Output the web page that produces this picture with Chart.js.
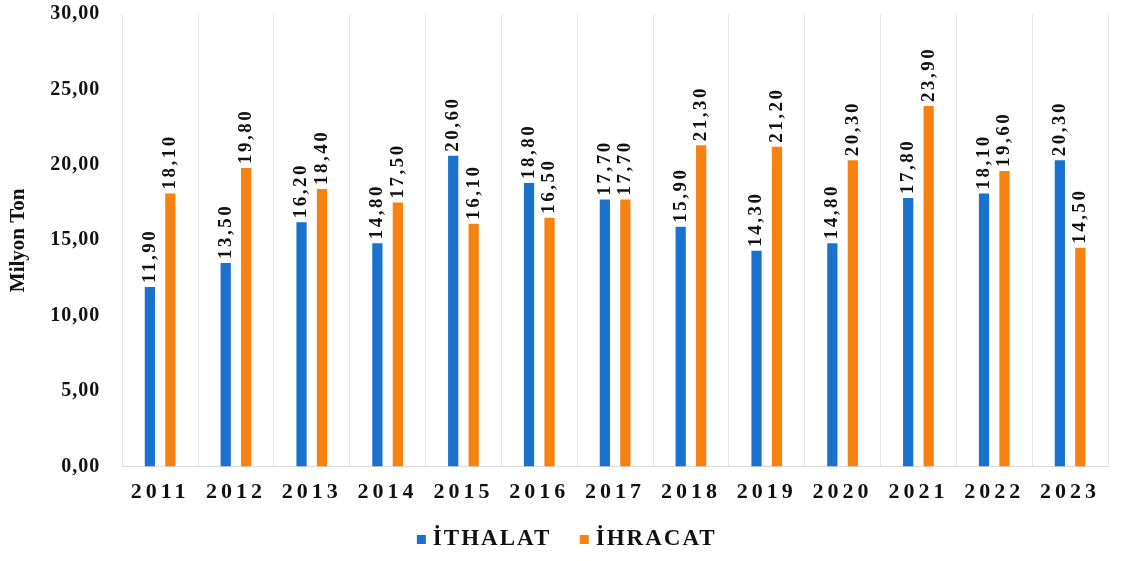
<!DOCTYPE html>
<html>
<head>
<meta charset="utf-8">
<script src="https://cdn.jsdelivr.net/npm/chart.js@4"></script>
<style>
  html, body { margin: 0; padding: 0; background: #fff; }
  #wrap { width: 1134px; height: 561px; position: relative; }
</style>
</head>
<body>
<div id="wrap"><canvas id="myChart"></canvas></div>
<script>
// veriler
const years = ["2011", "2012", "2013", "2014", "2015", "2016", "2017", "2018", "2019", "2020", "2021", "2022", "2023"];
const ithalat = [11.90, 13.50, 16.20, 14.80, 20.60, 18.80, 17.70, 15.90, 14.30, 14.80, 17.80, 18.10, 20.30];
const ihracat = [18.10, 19.80, 18.40, 17.50, 16.10, 16.50, 17.70, 21.30, 21.20, 20.30, 23.90, 19.60, 14.50];

const serif = "'Liberation Serif', 'DejaVu Serif', serif";
const blue = '#1a72cf';
const orange = '#f7820f';

function fmt(v) {
    return v.toFixed(2).replace('.', ',');
}

// lejant kutusu: kare sağ tarafta, yazıya yakın dursun
function legendSwatch(color) {
    const c = document.createElement('canvas');
    c.width = 41;
    c.height = 9;
    const g = c.getContext('2d');
    g.fillStyle = color;
    g.fillRect(28, 0, 9, 9);
    return c;
}

// etiketleri çubukların üstüne dikey yaz
const barLabels = {
    id: 'barLabels',
    afterDatasetsDraw(chart) {
        const ctx = chart.ctx;
        ctx.save();
        ctx.font = "bold 19px " + serif;
        ctx.fillStyle = "#111";
        ctx.letterSpacing = "2.5px";
        ctx.textAlign = "left";
        ctx.textBaseline = "middle";
        chart.data.datasets.forEach((ds, i) => {
            const meta = chart.getDatasetMeta(i);
            meta.data.forEach((bar, j) => {
                ctx.save();
                ctx.translate(bar.x, bar.y - 4);
                ctx.rotate(-Math.PI / 2);
                ctx.fillText(fmt(ds.data[j]), 0, 0);
                ctx.restore();
            });
        });
        ctx.restore();
    }
};

// harf aralığı: eksen etiketleri ve lejant
function withSpacing(obj, name, sp) {
    const orig = obj[name];
    obj[name] = function (...args) {
        const c = this.ctx;
        c.save();
        c.letterSpacing = sp;
        const r = orig.apply(this, args);
        c.restore();
        return r;
    };
}

const spacedText = {
    id: 'spacedText',
    beforeLayout(chart) {
        const lg = chart.legend;
        if (lg && !lg._wrapped) {
            withSpacing(lg, 'fit', '2px');
            withSpacing(lg, 'draw', '2px');
            lg._wrapped = true;
        }
    },
    afterLayout(chart) {
        [['x', '4px'], ['y', '1px']].forEach(([id, sp]) => {
            const s = chart.scales[id];
            if (s._wrapped) return;
            withSpacing(s, 'drawLabels', sp);
            s._wrapped = true;
        });
    }
};

const ctx = document.getElementById('myChart').getContext('2d');
const chart = new Chart(ctx, {
    type: 'bar',
    data: {
        labels: years,
        datasets: [
            {
                label: 'İTHALAT',
                data: ithalat,
                backgroundColor: blue,
                pointStyle: legendSwatch(blue),
                barPercentage: 0.5,
                categoryPercentage: 0.54
            },
            {
                label: 'İHRACAT',
                data: ihracat,
                backgroundColor: orange,
                pointStyle: legendSwatch(orange),
                barPercentage: 0.5,
                categoryPercentage: 0.54
            }
        ]
    },
    options: {
        responsive: true,
        maintainAspectRatio: false,
        animation: false,
        layout: { padding: { left: 6, right: 26, top: 0, bottom: 0 } },
        plugins: {
            tooltip: { enabled: false },
            legend: {
                position: 'bottom',
                labels: {
                    font: { family: serif, size: 23, weight: 'bold' },
                    color: '#111',
                    usePointStyle: true,
                    pointStyleWidth: 24,
                    boxHeight: 9,
                    padding: 9
                }
            }
        },
        scales: {
            x: {
                grid: { display: true, offset: true, drawTicks: false, color: '#e6e6e6' },
                border: { display: true, color: '#d9d9d9' },
                ticks: {
                    font: { family: serif, size: 22, weight: 'bold' },
                    color: '#111',
                    padding: 13,
                    maxRotation: 0
                }
            },
            y: {
                min: 0,
                max: 30,
                grid: { display: false, drawTicks: true, tickLength: 20, tickColor: 'transparent' },
                border: { display: false },
                title: {
                    display: true,
                    text: 'Milyon Ton',
                    font: { family: serif, size: 21, weight: 'bold' },
                    color: '#111',
                    padding: { top: 0, bottom: 22 }
                },
                ticks: {
                    stepSize: 5,
                    padding: 2,
                    font: { family: serif, size: 20, weight: 'bold' },
                    color: '#111',
                    callback: v => fmt(v)
                }
            }
        }
    },
    plugins: [barLabels, spacedText]
});
</script>
</body>
</html>
